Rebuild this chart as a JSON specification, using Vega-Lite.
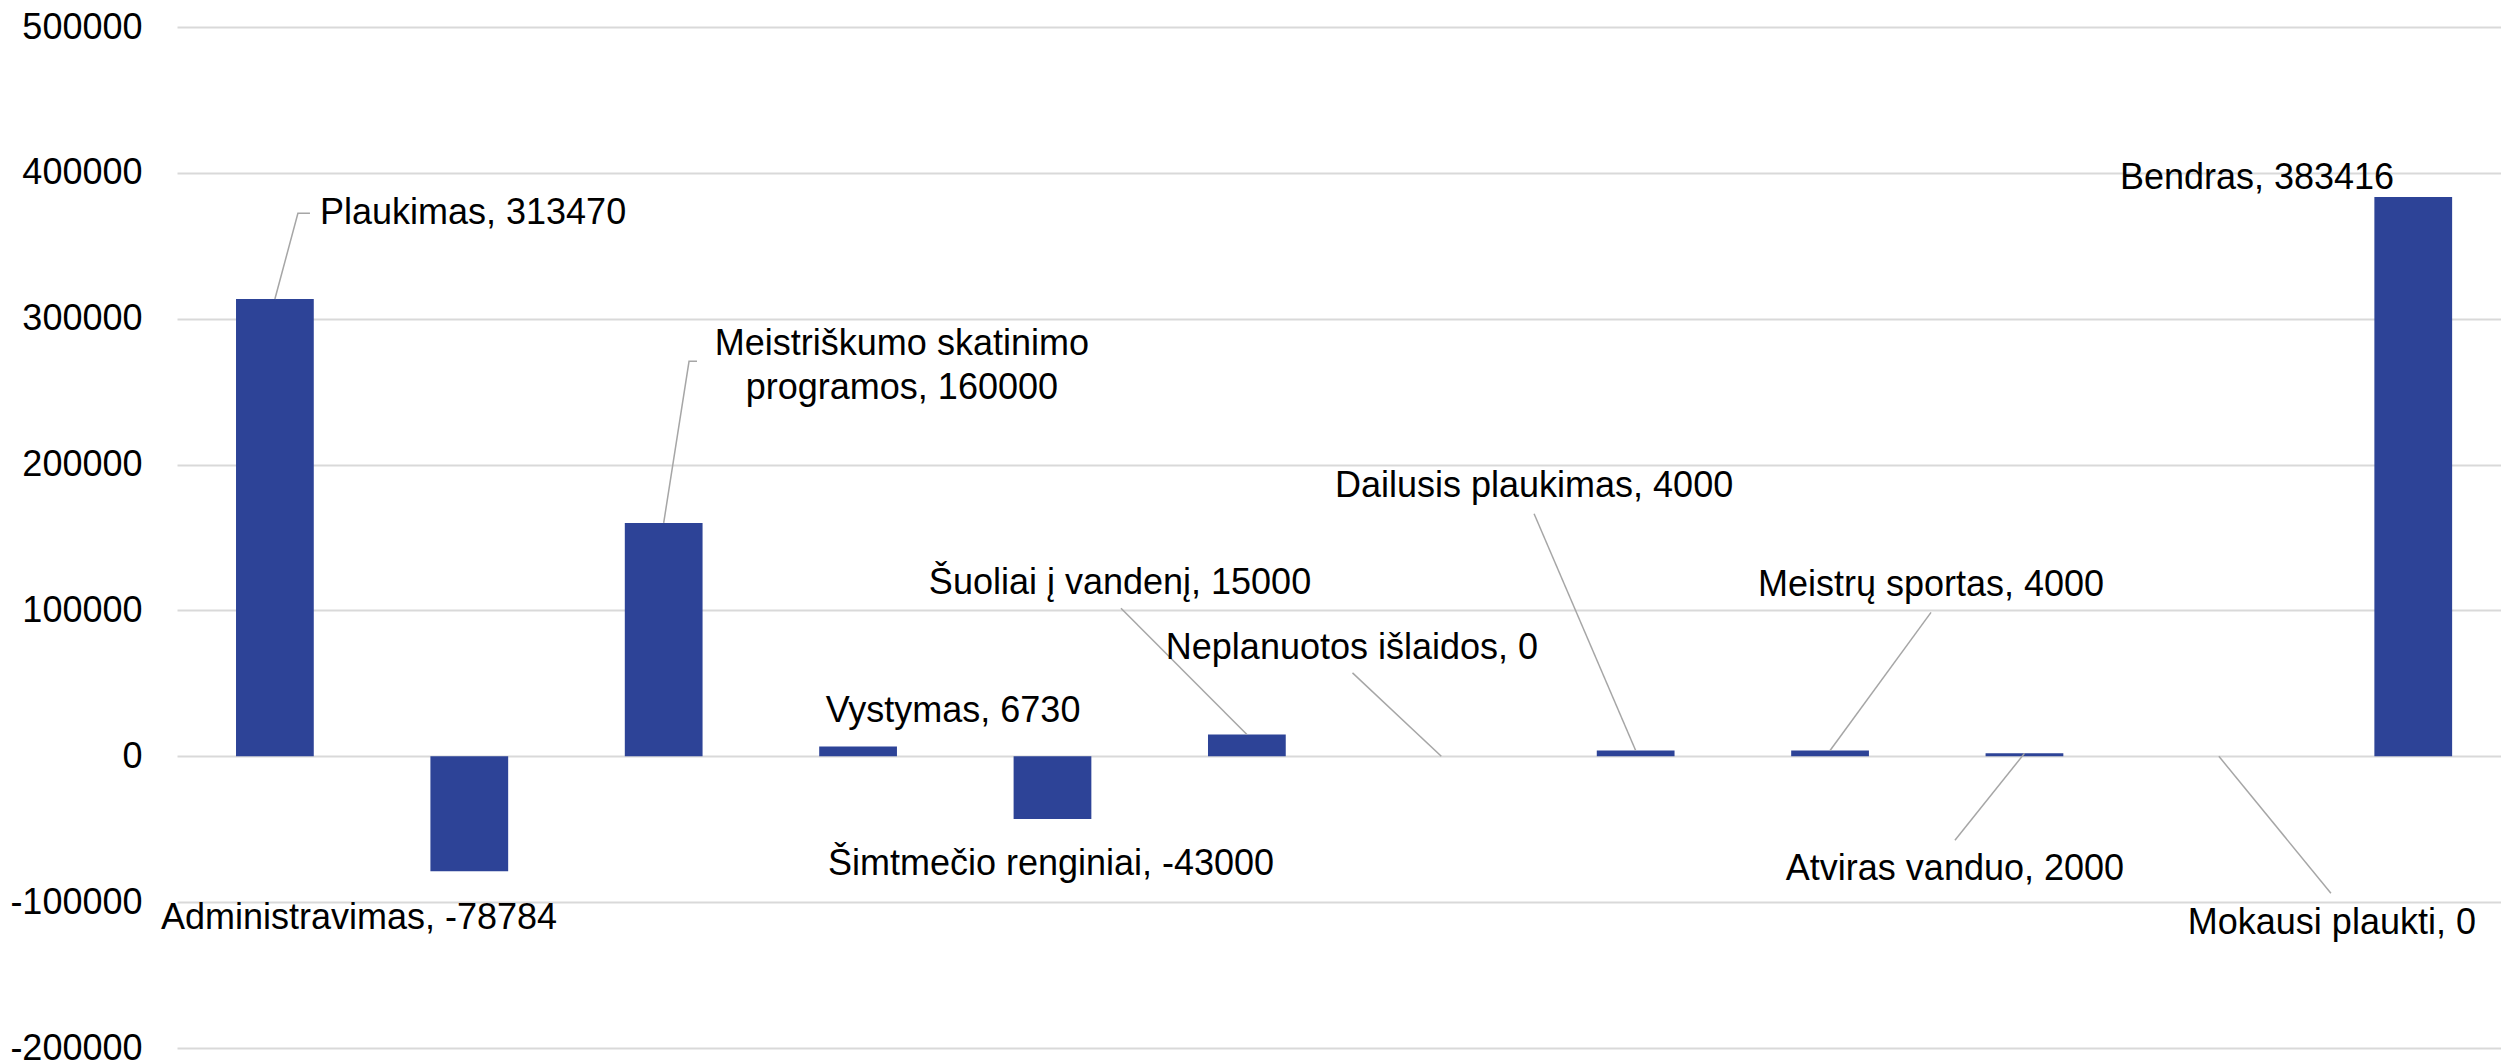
{
  "$schema": "https://vega.github.io/schema/vega-lite/v6.json",
  "width": 2324,
  "height": 1021,
  "autosize": {"type": "none"},
  "padding": {"left": 177, "top": 27, "right": 0, "bottom": 15},
  "background": "white",
  "config": {"view": {"stroke": null}, "font": "Liberation Sans"},
  "datasets": {
    "bars": [
      {"category": "Plaukimas", "amount": 313470},
      {"category": "Administravimas", "amount": -78784},
      {"category": "Meistriškumo skatinimo programos", "amount": 160000},
      {"category": "Vystymas", "amount": 6730},
      {"category": "Šimtmečio renginiai", "amount": -43000},
      {"category": "Šuoliai į vandenį", "amount": 15000},
      {"category": "Neplanuotos išlaidos", "amount": 0},
      {"category": "Dailusis plaukimas", "amount": 4000},
      {"category": "Meistrų sportas", "amount": 4000},
      {"category": "Atviras vanduo", "amount": 2000},
      {"category": "Mokausi plaukti", "amount": 0},
      {"category": "Bendras", "amount": 383416}
    ],
    "labels": [
      {"text": "Plaukimas, 313470", "slot": 1.523, "amount": 372300},
      {"text": "Administravimas, -78784", "slot": 0.936, "amount": -111100},
      {"text": "Meistriškumo skatinimo\nprogramos, 160000", "slot": 3.729, "amount": 282400},
      {"text": "Vystymas, 6730", "slot": 3.992, "amount": 30900},
      {"text": "Šimtmečio renginiai, -43000", "slot": 4.496, "amount": -74000},
      {"text": "Šuoliai į vandenį, 15000", "slot": 4.851, "amount": 119000},
      {"text": "Neplanuotos išlaidos, 0", "slot": 6.044, "amount": 74400},
      {"text": "Dailusis plaukimas, 4000", "slot": 6.981, "amount": 185100},
      {"text": "Meistrų sportas, 4000", "slot": 9.023, "amount": 117200},
      {"text": "Atviras vanduo, 2000", "slot": 9.146, "amount": -77500},
      {"text": "Mokausi plaukti, 0", "slot": 11.085, "amount": -114500},
      {"text": "Bendras, 383416", "slot": 10.7, "amount": 396300}
    ],
    "leaders": [
      {"label": "Plaukimas", "seq": 0, "slot": 0.5036, "amount": 313470},
      {"label": "Plaukimas", "seq": 1, "slot": 0.622, "amount": 372300},
      {"label": "Plaukimas", "seq": 2, "slot": 0.684, "amount": 372300},
      {"label": "Meistriškumo", "seq": 0, "slot": 2.5036, "amount": 160000},
      {"label": "Meistriškumo", "seq": 1, "slot": 2.634, "amount": 270800},
      {"label": "Meistriškumo", "seq": 2, "slot": 2.675, "amount": 270800},
      {"label": "Šuoliai", "seq": 0, "slot": 5.5036, "amount": 15000},
      {"label": "Šuoliai", "seq": 1, "slot": 4.856, "amount": 101500},
      {"label": "Neplanuotos", "seq": 0, "slot": 6.5036, "amount": 0},
      {"label": "Neplanuotos", "seq": 1, "slot": 6.047, "amount": 57200},
      {"label": "Dailusis", "seq": 0, "slot": 7.5036, "amount": 4000},
      {"label": "Dailusis", "seq": 1, "slot": 6.981, "amount": 166300},
      {"label": "Meistrų", "seq": 0, "slot": 8.5036, "amount": 4000},
      {"label": "Meistrų", "seq": 1, "slot": 9.023, "amount": 98700},
      {"label": "Atviras", "seq": 0, "slot": 9.5036, "amount": 2000},
      {"label": "Atviras", "seq": 1, "slot": 9.146, "amount": -57600},
      {"label": "Mokausi", "seq": 0, "slot": 10.5036, "amount": 0},
      {"label": "Mokausi", "seq": 1, "slot": 11.08, "amount": -93900}
    ]
  },
  "layer": [
    {
      "data": {"name": "bars"},
      "mark": {"type": "bar", "color": "#2D4397"},
      "encoding": {
        "x": {"field": "category", "type": "nominal", "sort": null, "scale": {"paddingInner": 0.6, "paddingOuter": 0.2775, "align": 0.547}, "axis": null},
        "y": {
          "field": "amount", "type": "quantitative",
          "scale": {"domain": [-200000, 500000], "nice": false, "zero": false},
          "axis": {
            "title": null,
            "values": [-200000, -100000, 0, 100000, 200000, 300000, 400000, 500000],
            "labelExpr": "datum.value + ''",
            "grid": true, "gridColor": "#D9D9D9", "gridWidth": 2,
            "domain": false, "ticks": false, "tickSize": 0,
            "labelPadding": 35, "labelFontSize": 36, "labelColor": "#000000",
            "labelFont": "Liberation Sans", "labelFlush": false, "labelOverlap": false, "labelBound": false
          }
        }
      }
    },
    {
      "data": {"name": "leaders"},
      "mark": {"type": "line", "color": "#A6A6A6", "strokeWidth": 1.5},
      "encoding": {
        "x": {"field": "slot", "type": "quantitative", "scale": {"domain": [0, 11.955], "nice": false, "zero": false}, "axis": null},
        "y": {"field": "amount", "type": "quantitative"},
        "detail": {"field": "label"},
        "order": {"field": "seq"}
      }
    },
    {
      "data": {"name": "labels"},
      "mark": {"type": "text", "fontSize": 36, "color": "#000000", "align": "center", "baseline": "middle", "lineBreak": "\n", "lineHeight": 44, "font": "Liberation Sans"},
      "encoding": {
        "x": {"field": "slot", "type": "quantitative", "scale": {"domain": [0, 11.955], "nice": false, "zero": false}, "axis": null},
        "y": {"field": "amount", "type": "quantitative"},
        "text": {"field": "text"}
      }
    }
  ],
  "resolve": {"scale": {"x": "independent"}}
}
